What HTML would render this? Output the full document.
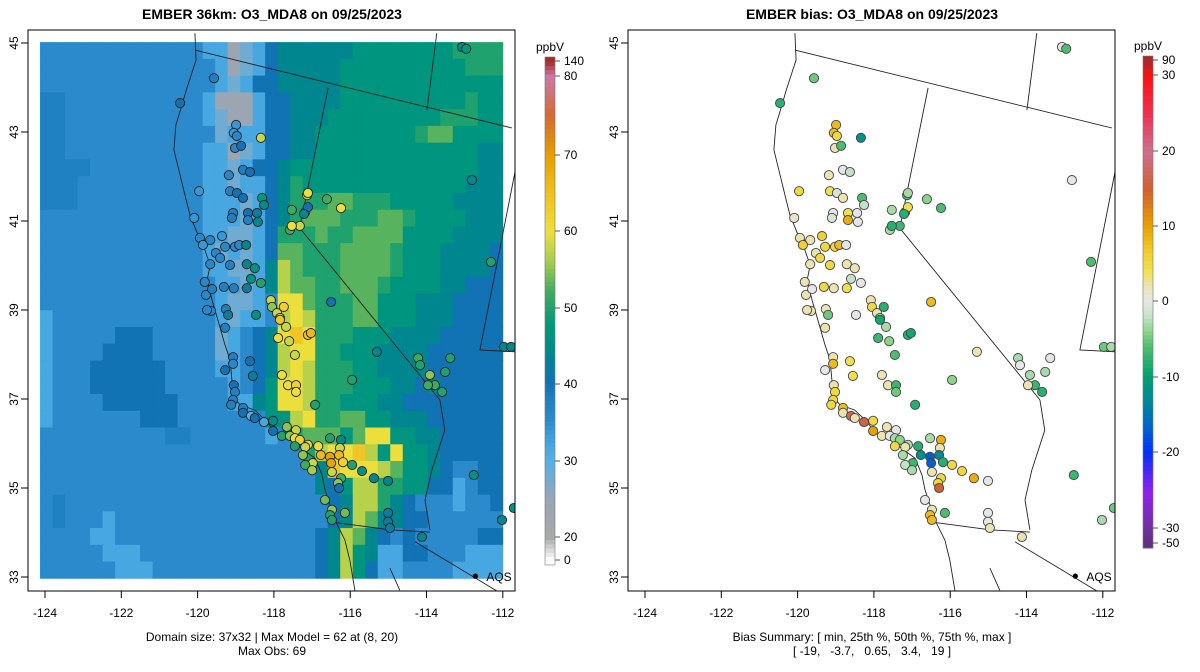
<!DOCTYPE html>
<html><head><meta charset="utf-8"><style>
body{margin:0;background:#fff;}
svg{display:block;font-family:"Liberation Sans",Arial,sans-serif;}
</style></head><body>
<svg id="chart" width="1200" height="672" viewBox="0 0 1200 672" xmlns="http://www.w3.org/2000/svg">
<rect width="1200" height="672" fill="#fff"/>
<text x="272" y="19" text-anchor="middle" font-size="14" font-weight="bold">EMBER 36km: O3_MDA8 on 09/25/2023</text>
<text x="872" y="19" text-anchor="middle" font-size="14" font-weight="bold">EMBER bias: O3_MDA8 on 09/25/2023</text>
<text x="272" y="641" text-anchor="middle" font-size="12">Domain size: 37x32 | Max Model = 62 at (8, 20)</text>
<text x="272" y="655" text-anchor="middle" font-size="12">Max Obs: 69</text>
<text x="872" y="641" text-anchor="middle" font-size="12">Bias Summary: [ min, 25th %, 50th %, 75th %, max ]</text>
<text x="872" y="655" text-anchor="middle" font-size="12" xml:space="preserve">[ -19,   -3.7,   0.65,   3.4,   19 ]</text>
<defs>
<clipPath id="clipL"><rect x="28" y="30" width="487" height="561"/></clipPath>
<clipPath id="clipR"><rect x="628" y="30" width="487" height="561"/></clipPath>
</defs>
<g id="panelL"></g>
<g id="panelR"></g>
<g id="cbars"></g>
</svg>
<script>
const NS='http://www.w3.org/2000/svg';
// ---------- data ----------
const gridKeys=['l','b','c','d','a','w','t','e','g','G','y','Y','o'];
const gridKeyValues=[32,35.5,38,40,24,28,44,47,50,53,57,60,64];
const gridRows=[
"bbbbbbbbbbbbbllawldtttttteeeeeeeegggg",
"bbbbbbbbbbbbbblawldttttteeeeeeeeeeggg",
"bbbbbbbbbbbbbblwlddttttteeeeeeeeeeeee",
"ccbbbbbbbbbbblaaalddtttteeeeeeeeeegee",
"ccbbbbbbbbbbblwaalddttteeeeeeeeegggee",
"ccbbbbbbbbbbbbwlllddtteeeeeeeegGGeeee",
"ccbbbbbbbbbbbllawlddtteeeeeeeeeeeeett",
"ccccbbbbbbbbbllwlddteeeeeeeeeeeeeeett",
"cccbbbbbbbbbbllwlldtgeeeeeeeeeeeeettt",
"cccbbbbbbbbbblllwldtgggGGgggeeeeetttt",
"bbbbbbbbbbbbblllwldtgGGGgggGGgeeeettt",
"bbbbbbbbbbbbbllwwldgggGggGGGGeeeetttt",
"bbbbbbbbbbbbblwlwldGGgggGGGGgeeettttd",
"bbbbbbbbbbbbbllwwltyGgggGGGGgeeettttd",
"bbbbbbbbbbbbbbllwltyGGggGGGgeeeettddd",
"bbbbbbbbbbbbbblwwlbYYGgggGGeeetttdddd",
"lbbbbbbbbbbbbblwllbyYygggGGeeetttdddd",
"lbbbbbdddbbbbbwlbdtYoYgggeeettttddddd",
"lbbbbddddbbbbbwlbdtyYYggeeettttdddddd",
"lbbbddddddbbbbllbdtyYygggeettttdddddd",
"lbbbddddddbbbbblbdeYYygggeeettdtddddd",
"lbbbbddddddbbbbllteYYyggeeettdddddddd",
"lbbbbbbbdddbbbbbbbeeyYggGGeetttdddddd",
"bbbbbbbbbbccbbbbbblbgGGGeGYYeettddddd",
"bbbbbbbbbbbbbbbbbbbbbgyYYoyeYeetddddd",
"bbbbbbbbbbbbbbbbbbbbbbtoYYYyGeetdbbdd",
"bbbbbbbbbbbbbbbbbbbbbbtdeyyggeeddlbdd",
"bcbbbbbbbbbbbbbbbbbbbbbdtyygtdbbblbbd",
"bcbbblbbbbbbbbbbbbbbbbbdtyGttddbbbbbb",
"bbbbllbbbbbbbbbbbbbbbbdtyGtdbdbbbbbdd",
"bbbbblllbbbbbbbbbbbbbbdtyetllddbbblll",
"bbbbbblllbbbbbbbbbbbbbdtyedllbbbbllll"];
const stLon=[-120.46,-119.57,-113.07,-112.96,-118.99,-119.05,-118.97,-118.34,-119.02,-118.86,-118.81,-118.63,-119.18,-119.96,-119.15,-118.97,-118.81,-118.31,-118.26,-120.09,-119.07,-118.44,-118.68,-118.68,-118.42,-119.10,-119.36,-119.28,-119.02,-118.91,-119.94,-119.67,-119.86,-119.52,-119.41,-119.15,-118.73,-118.71,-118.50,-118.60,-119.67,-119.81,-119.31,-119.05,-118.71,-119.78,-119.62,-119.65,-119.26,-118.34,-118.08,-117.58,-117.32,-117.18,-117.11,-117.13,-117.11,-116.61,-116.24,-117.53,-117.21,-117.53,-116.50,-119.75,-119.20,-118.47,-118.05,-117.92,-117.74,-117.84,-117.84,-117.68,-117.89,-117.60,-117.11,-117.03,-119.28,-117.45,-115.30,-119.07,-119.07,-119.28,-118.63,-118.55,-117.79,-117.63,-117.42,-117.42,-115.95,-119.05,-119.02,-119.07,-119.12,-116.92,-118.81,-118.81,-118.60,-118.50,-118.26,-118.02,-118.02,-117.66,-117.42,-117.79,-117.58,-117.45,-117.32,-117.11,-117.45,-117.18,-116.84,-116.53,-116.24,-116.27,-116.77,-116.53,-116.50,-116.29,-116.19,-117.24,-116.98,-117.18,-117.00,-115.95,-115.69,-115.38,-115.01,-116.48,-116.24,-116.32,-116.29,-116.66,-116.48,-116.53,-116.48,-116.14,-115.01,-115.01,-114.96,-114.12,-114.22,-114.17,-113.91,-113.78,-113.96,-113.51,-113.38,-113.59,-112.81,-112.31,-111.97,-111.78,-112.76,-112.02,-111.71];
const stLat=[43.65,44.21,44.91,44.87,43.16,42.98,42.91,42.87,42.64,42.69,42.15,42.10,42.03,41.67,41.67,41.63,41.52,41.52,41.36,41.07,41.18,41.18,41.18,41.02,40.98,41.07,40.66,40.42,40.42,40.46,40.62,40.57,40.46,40.28,40.17,40.01,40.46,40.03,39.94,39.70,40.03,39.63,39.52,39.49,39.49,39.34,39.47,38.98,39.02,39.61,39.22,40.80,40.89,41.20,41.31,41.58,41.63,41.49,41.29,41.25,41.16,40.89,39.18,39.00,38.89,38.89,39.07,38.93,39.07,38.82,38.78,38.62,38.37,38.30,38.44,38.48,38.60,37.99,38.06,37.94,37.79,37.65,37.85,37.52,37.54,37.31,37.31,37.16,37.43,37.31,37.16,36.98,36.87,36.87,36.80,36.69,36.62,36.57,36.48,36.51,36.28,36.37,36.30,36.17,36.17,36.12,36.08,35.97,35.94,35.92,35.94,36.12,36.08,35.90,35.74,35.70,35.56,35.74,35.58,35.74,35.56,35.52,35.40,35.52,35.38,35.22,35.16,35.36,35.22,35.11,35.00,34.73,34.51,34.39,34.28,34.44,34.44,34.24,34.10,33.90,37.92,37.76,37.54,37.31,37.31,37.61,37.92,37.16,41.92,40.08,38.17,38.17,35.29,34.28,34.55];
const stBias=[-8,-5,0,-6,8,8,5,-12,2,-6,0,-2,2,5,4,-1,2,-6,-2,1,0,0,4,9,0,-1,6,5,5,8,2,2,6,2,5,5,0,2,2,-2,2,2,5,2,4,2,0,2,2,0,2,-3,-7,-6,4,-6,-3,-4,-6,-3,-8,-8,8,2,-5,0,5,2,-8,-3,-9,-3,-7,-4,-8,-9,2,-6,2,2,8,0,4,4,2,2,-7,-5,-4,2,5,5,5,-8,8,2,17,2,16,5,10,2,0,2,0,-3,-4,-3,5,2,-8,-3,9,2,-12,-17,-17,-13,-8,-3,-7,-2,-3,5,5,9,0,2,5,5,15,0,2,8,8,-6,0,0,2,2,-3,0,-3,-7,2,-3,0,-8,0,-6,-5,-3,-7,-3,-5];
const stObs=[40,38,45,48,34,34,36,58,36,40,38,40,36,34,38,40,40,48,45,34,38,42,40,38,44,38,34,36,36,36,36,36,34,36,36,38,44,44,46,46,36,36,38,38,42,36,38,36,38,50,58,52,58,58,40,58,60,52,60,52,44,60,40,36,42,46,55,58,62,58,64,58,60,58,65,66,38,58,44,38,36,40,40,42,60,60,62,60,50,40,38,38,38,50,38,40,30,40,32,45,40,55,58,50,55,60,62,62,50,58,60,50,45,58,66,69,69,66,62,55,58,52,56,50,46,44,44,58,52,55,40,54,55,50,50,54,42,42,42,44,52,50,55,52,52,50,50,50,45,50,44,44,46,44,46];
const xTicks=[-124,-122,-120,-118,-116,-114,-112];
const yTicks=[33,35,37,39,41,43,45];
const modelTicks=[0,20,30,40,50,60,70,80,140];
const biasTicks=[-50,-30,-20,-10,0,10,20,30,90];
// ---------- scales ----------
function px(lon,off){return off+45+(lon+124)*38.15;}
function py(lat){return 43+(45-lat)*44.5;}
function hex(c){return [parseInt(c.substr(1,2),16),parseInt(c.substr(3,2),16),parseInt(c.substr(5,2),16)];}
function interp(stops,v){
  if(v<=stops[0][0])return stops[0][1];
  for(let i=1;i<stops.length;i++){if(v<=stops[i][0]){const a=stops[i-1],b=stops[i];const t=(v-a[0])/(b[0]-a[0]);const ca=hex(a[1]),cb=hex(b[1]);return 'rgb('+ca.map((x,k)=>Math.round(x+(cb[k]-x)*t)).join(',')+')';}}
  return stops[stops.length-1][1];
}
const mStops=[[0,'#ffffff'],[20,'#a8a8a8'],[25,'#98a6b4'],[30,'#56b0e6'],[33,'#3fa2de'],[35.5,'#2a8acb'],[38,'#1f80c2'],[40,'#1172b4'],[44,'#00868f'],[48,'#009a78'],[52,'#3eaa62'],[56,'#a6cc50'],[60,'#ecdf3c'],[65,'#f0c020'],[70,'#e69f00'],[75,'#d56a30'],[80,'#cc79a7'],[140,'#a52a2a']];
const bStops=[[-50,'#603080'],[-30,'#7030a0'],[-25,'#9020f0'],[-20,'#0030ff'],[-17,'#0060d0'],[-13,'#00889a'],[-10,'#00a070'],[-6,'#4cbd70'],[-4,'#8ad48a'],[-2,'#c6e2c6'],[0,'#e6e6e6'],[2,'#ece4b0'],[4,'#f0e050'],[7,'#f0c828'],[10,'#e8a000'],[15,'#d06030'],[20,'#cc7090'],[25,'#f03050'],[30,'#ff1010'],[90,'#a52a2a']];
const mBarY=[[0,560],[20,537],[30,461],[40,384],[50,308],[60,231],[70,155],[80,76],[140,61]];
const bBarY=[[-50,543],[-30,528],[-20,452],[-10,377],[0,301],[10,226],[20,151],[30,75],[90,60]];
function mapY(tab,v){for(let i=1;i<tab.length;i++){if(v<=tab[i][0]){const a=tab[i-1],b=tab[i];return a[1]+(b[1]-a[1])*(v-a[0])/(b[0]-a[0]);}}return tab[tab.length-1][1];}
function el(tag,attrs,parent){const e=document.createElementNS(NS,tag);for(const k in attrs)e.setAttribute(k,attrs[k]);parent.appendChild(e);return e;}
// ---------- geography (lon/lat vertices) ----------
const coast=[[-120.07,45.22],[-120.04,44.62],[-120.30,43.94],[-120.41,43.61],[-120.57,43.16],[-120.62,42.60],[-120.46,42.03],[-120.30,41.47],[-120.20,41.13],[-119.99,40.69],[-119.81,40.57],[-119.81,40.35],[-119.67,40.01],[-119.75,39.67],[-119.62,39.22],[-119.47,38.78],[-119.28,38.21],[-119.15,37.88],[-119.10,37.43],[-119.10,37.09],[-118.89,36.87],[-118.50,36.75],[-118.23,36.53],[-117.97,36.26],[-117.58,36.08],[-117.32,35.92],[-116.92,35.67],[-116.74,35.29],[-116.66,34.96],[-116.53,34.62],[-116.40,34.28],[-116.14,33.83],[-116.01,33.38],[-115.87,32.66]];
const borders=[
 [[-120.07,44.84],[-111.76,43.09]],
 [[-116.58,43.99],[-117.32,40.84],[-113.65,36.98]],
 [[-113.99,43.49],[-113.73,45.22]],
 [[-111.68,42.10],[-112.60,38.10],[-111.68,38.06]],
 [[-113.65,36.98],[-113.52,36.30],[-113.86,35.40],[-114.04,34.73],[-113.91,34.06]],
 [[-116.53,34.24],[-114.96,34.06],[-113.91,34.01]],
 [[-114.30,33.79],[-111.76,32.48]],
 [[-114.96,33.2],[-114.7,32.7]]
];
// ---------- panels ----------
function axes(g,off){
  const L=off+28,R=off+515,T=30,B=591;
  el('rect',{x:L,y:T,width:R-L,height:B-T,fill:'none',stroke:'#000','stroke-width':1},g);
  xTicks.forEach(t=>{const x=px(t,off);
    const tk=el('line',{x1:x,y1:B,x2:x,y2:B+7,stroke:'#000'},g);
    
    const tx=el('text',{x:x,y:B+26,'text-anchor':'middle','font-size':12},g);tx.textContent=t;
    });
  yTicks.forEach(t=>{const y=py(t);
    const tk=el('line',{x1:L,y1:y,x2:L-7,y2:y,stroke:'#000'},g);
    
    const tx=el('text',{x:L-10,y:y,'text-anchor':'middle','font-size':12,transform:'rotate(-90 '+(L-10)+' '+y+')'},g);tx.textContent=t;
    });
}
function geo(g,off){
  const d=coast.map((p,i)=>(i?'L':'M')+px(p[0],off).toFixed(1)+' '+py(p[1]).toFixed(1)).join(' ');
  const c=el('path',{d:d,fill:'none',stroke:'#222','stroke-width':0.9},g);
  
  borders.forEach(b=>{const d2=b.map((p,i)=>(i?'L':'M')+px(p[0],off).toFixed(1)+' '+py(p[1]).toFixed(1)).join(' ');
    const s=el('path',{d:d2,fill:'none',stroke:'#222','stroke-width':0.9},g);
    });
}
function aqs(g,off){
  const x=px(-112.72,off),y=py(33.02);
  const dot=el('circle',{cx:x,cy:y,r:2.6,fill:'#000'},g);
  
  const t=el('text',{x:x+11,y:y+5,'font-size':12},g);t.textContent='AQS';
  
}
// left
const gL=document.getElementById('panelL');
const cL=el('g',{'clip-path':'url(#clipL)'},gL);
const lon0=-124.13,dLon=(-112.0-lon0)/37,lat0=45.02,dLat=(45.02-32.97)/32;
gridRows.forEach((row,r)=>{for(let c=0;c<37;c++){const ch=row[c]||row[row.length-1];const v=gridKeyValues[gridKeys.indexOf(ch)];
  const x1=px(lon0+c*dLon,0),x2=px(lon0+(c+1)*dLon,0),y1=py(lat0-r*dLat),y2=py(lat0-(r+1)*dLat);
  const rc=el('rect',{x:x1.toFixed(2),y:y1.toFixed(2),width:(x2-x1+0.4).toFixed(2),height:(y2-y1+0.4).toFixed(2),fill:interp(mStops,v)},cL);
  }});
geo(cL,0);
stLon.forEach((lo,i)=>{const c=el('circle',{cx:px(lo,0).toFixed(1),cy:py(stLat[i]).toFixed(1),r:4.6,fill:interp(mStops,stObs[i]),stroke:'#222','stroke-width':0.9},cL);
  });
aqs(cL,0);axes(gL,0);
// right
const gR=document.getElementById('panelR');
const cR=el('g',{'clip-path':'url(#clipR)'},gR);
geo(cR,600);
stLon.forEach((lo,i)=>{const c=el('circle',{cx:px(lo,600).toFixed(1),cy:py(stLat[i]).toFixed(1),r:4.6,fill:interp(bStops,stBias[i]),stroke:'#444','stroke-width':0.9},cR);
  });
aqs(cR,600);axes(gR,600);
// colorbars
const cb=document.getElementById('cbars');
function colorbar(x,stops,tab,ticks,name){
  const g=el('g',{},cb);
  const vmin=tab[0][0],vmax=tab[tab.length-1][0];
  const N=120;
  for(let i=0;i<N;i++){
    const yA=tab[0][1]+5-(i/N)*(tab[0][1]+5-(tab[tab.length-1][1]-4));
    const yB=tab[0][1]+5-((i+1)/N)*(tab[0][1]+5-(tab[tab.length-1][1]-4));
    const ym=(yA+yB)/2;
    let v=vmin;for(let k=1;k<tab.length;k++){if(ym>=tab[k][1]){const a=tab[k-1],b=tab[k];v=a[0]+(b[0]-a[0])*(a[1]-ym)/(a[1]-b[1]);break;}v=vmax;}
    el('rect',{x:x,y:yB,width:10,height:yA-yB+0.5,fill:interp(stops,v)},g);
  }
  el('rect',{x:x,y:tab[tab.length-1][1]-4,width:10,height:tab[0][1]-tab[tab.length-1][1]+9,fill:'none',stroke:'#777','stroke-width':0.6},g);
  ticks.forEach(t=>{const y=mapY(tab,t);
    el('line',{x1:x+10,y1:y,x2:x+15,y2:y,stroke:'#555'},g);
    const tx=el('text',{x:x+19,y:y+4,'font-size':12},g);tx.textContent=t;
    });
  const u=el('text',{x:x+5,y:tab[tab.length-1][1]-10,'text-anchor':'middle','font-size':12},g);u.textContent='ppbV';
  
}
colorbar(545,mStops,mBarY,modelTicks,'model-colorbar');
colorbar(1143,bStops,bBarY,biasTicks,'bias-colorbar');
</script>
</body></html>
